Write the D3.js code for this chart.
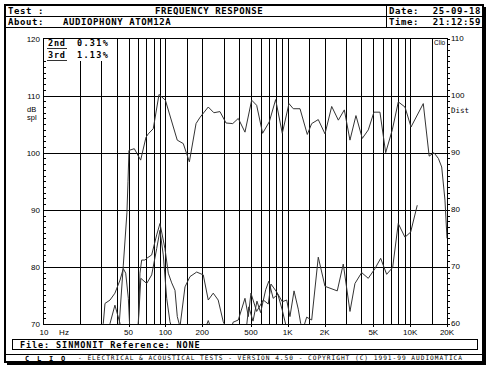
<!DOCTYPE html>
<html><head><meta charset="utf-8">
<script src="https://cdn.jsdelivr.net/npm/d3@7"></script>
<style>html,body{margin:0;padding:0;background:#fff;}svg{display:block;}</style>
</head><body>
<script>
// ---------- data ----------
const mainFreq = [41.8, 45.3, 48.5, 49.5, 50.4, 55.7, 62.8, 69.4, 72.5, 79.6, 88.7, 100, 125, 140, 157, 178, 192, 224, 249, 279, 313, 355, 394, 447, 507, 557, 623, 706, 796, 902, 1023, 1109, 1259, 1444, 1568, 1775, 2014, 2285, 2590, 2898, 3222, 3606, 4064, 4550, 5060, 5665, 6310, 7145, 8000, 9070, 10160, 12800, 14300, 15640, 17000, 18100, 19250, 20000];
const mainSpl  = [69.5, 80.3, 89.5, 95, 100.4, 100.7, 98.7, 102.7, 103.3, 104.2, 110.2, 109.2, 102.2, 101.6, 98.4, 105.1, 106.2, 108.0, 107.0, 107.2, 105.2, 105.1, 106.0, 103.6, 109.2, 108.3, 103.4, 105.4, 109.3, 103.4, 108.6, 107.7, 107.7, 103.2, 105.1, 105.8, 103.3, 108.1, 105.7, 107.5, 102.2, 106.5, 102.5, 104.0, 107.1, 107.1, 100.0, 104.0, 108.9, 108.0, 104.5, 108.6, 99.4, 100.0, 99.0, 97.5, 91.7, 85];

const thirdFreq = [30, 31.1, 32.1, 35.3, 38.7, 42.6, 45.3, 47.4, 49.8, 51.5, 57, 60.1, 62, 64, 68.1, 70.4, 77.3, 84.9, 90.3, 99.2, 105.6, 112.6, 119.8, 125.1, 131.6, 144.6, 158.9, 180.2, 204, 224, 246, 270, 297, 320, 345, 357, 394, 447, 476, 500, 557, 631, 693, 729, 812, 902, 980, 1042, 1125, 1218, 1275, 1350, 1427, 1568, 1775, 2014, 2537, 2841, 3223, 3540, 4015, 4546, 5157, 5741, 6427, 7195, 7992, 9069, 10095, 11429];
const thirdDist = [58, 60.1, 63.6, 64.2, 65.4, 67.7, 69.7, 68.9, 64.5, 58, 58, 60.1, 68.9, 71.2, 71.2, 71.5, 72.1, 75.6, 77.6, 73.2, 68.9, 67.2, 65.9, 61.3, 59.5, 66.5, 68.3, 69.1, 68.6, 64.2, 65.4, 64.2, 60.4, 59, 59, 60.3, 60.7, 64.5, 61.3, 65.4, 62.2, 64.2, 63.5, 67.0, 65.6, 63.9, 64.2, 61.3, 65.8, 62.6, 60.1, 59.5, 61.2, 60.7, 71.7, 66.6, 65.8, 70.5, 62.2, 67.1, 69.0, 68.0, 69.7, 71.5, 68.7, 69.9, 77.6, 75.2, 76.1, 80.8];

const secondFreq = [34, 35.3, 38.7, 42.6, 44, 58, 60.1, 63, 70.4, 77.3, 84.9, 90.3, 96.1, 102.5, 109, 114, 210, 224, 238, 430, 460, 480, 520, 560, 600, 660, 700, 760, 830, 900, 960, 1000];
const secondDist = [59, 60.1, 63.3, 60.1, 59, 59, 60.1, 68, 67.1, 68.6, 73.2, 76.4, 72.1, 64.5, 60.4, 59, 59, 60.6, 59, 59, 59.5, 63, 60.5, 64, 62, 66, 67.5, 64.5, 65.2, 62.5, 60, 59];

const gridFreqs = [20,30,40,50,60,70,80,90,100,150,200,300,400,500,600,700,800,900,1000,1500,2000,3000,4000,5000,6000,7000,8000,9000,10000,15000];
const xTickVals = [10, 50, 100, 200, 500, 1000, 2000, 5000, 10000, 20000];
const xTickLabels = ["10", "50", "100", "200", "500", "1K", "2K", "5K", "10K", "20K"];
const leftTicks = [70, 80, 90, 100, 110, 120];
const rightTicks = [60, 70, 80, 90, 100, 110];

// ---------- drawing ----------
const W = 497, H = 382;
const svg = d3.select("body").append("svg").attr("width", W).attr("height", H);
svg.append("rect").attr("width", W).attr("height", H).attr("fill", "#fff");

const mono = "'DejaVu Sans Mono', 'Liberation Mono', monospace";
const sans = "'Liberation Sans', Arial, sans-serif";

// outer frame with shadow
svg.append("rect").attr("x", 7).attr("y", 7).attr("width", 479).attr("height", 358).attr("fill", "#000");
svg.append("rect").attr("x", 5).attr("y", 5).attr("width", 478).attr("height", 357).attr("fill", "#fff").attr("stroke", "#000").attr("stroke-width", 2);

// header
const hdr = svg.append("g").attr("shape-rendering", "crispEdges");
hdr.append("line").attr("x1", 5).attr("x2", 483).attr("y1", 16.5).attr("y2", 16.5).attr("stroke", "#000");
hdr.append("line").attr("x1", 5).attr("x2", 483).attr("y1", 27.5).attr("y2", 27.5).attr("stroke", "#000");
hdr.append("line").attr("x1", 386.5).attr("x2", 386.5).attr("y1", 5).attr("y2", 27.5).attr("stroke", "#000");
const ht = (x, y, s, anchor) => svg.append("text").attr("x", x).attr("y", y).text(s)
  .attr("font-family", mono).attr("font-weight", "bold").attr("font-size", 9).attr("letter-spacing", 0.6)
  .attr("text-anchor", anchor || "start").attr("fill", "#000");
ht(8, 14, "Test :");
ht(155, 14, "FREQUENCY RESPONSE");
ht(389, 14, "Date:");
ht(481, 14, "25-09-18", "end");
ht(8, 24.5, "About:");
ht(63, 24.5, "AUDIOPHONY ATOM12A");
ht(389, 24.5, "Time:");
ht(481, 24.5, "21:12:59", "end");

// scales
const x = d3.scaleLog().domain([10, 20000]).range([43, 447]);
const yL = d3.scaleLinear().domain([70, 120]).range([324, 38.5]);
const yR = d3.scaleLinear().domain([60, 110]).range([324, 38.5]);

// grid
const grid = svg.append("g").attr("shape-rendering", "crispEdges").attr("stroke", "#000");
grid.selectAll("line.v").data(gridFreqs).join("line")
  .attr("x1", d => Math.round(x(d)) + 0.5).attr("x2", d => Math.round(x(d)) + 0.5)
  .attr("y1", 38.5).attr("y2", 324);
grid.selectAll("line.h").data([80, 90, 100, 110]).join("line").attr("class", "h")
  .attr("x1", 43).attr("x2", 447)
  .attr("y1", d => Math.round(yL(d)) + 0.5).attr("y2", d => Math.round(yL(d)) + 0.5);

// minor ticks on left (inward) and right (outward)
const minor = d3.range(70, 121, 1);
grid.selectAll("line.ml").data(minor).join("line").attr("class", "ml")
  .attr("x1", 43.5).attr("x2", 46).attr("y1", d => Math.round(yL(d)) + 0.5).attr("y2", d => Math.round(yL(d)) + 0.5);
const minorR = d3.range(60, 111, 1);
grid.selectAll("line.mr").data(minorR).join("line").attr("class", "mr")
  .attr("x1", 447).attr("x2", 449.5).attr("y1", d => Math.round(yR(d)) + 0.5).attr("y2", d => Math.round(yR(d)) + 0.5);
// bottom ticks
grid.selectAll("line.bt").data(xTickVals.slice(1)).join("line").attr("class", "bt")
  .attr("x1", d => Math.round(x(d)) + 0.5).attr("x2", d => Math.round(x(d)) + 0.5).attr("y1", 324).attr("y2", 327);

// axis labels
const lab = (xx, yy, s, anchor, size, fam, weight) => svg.append("text").attr("x", xx).attr("y", yy).text(s)
  .attr("font-family", fam || sans).attr("font-size", size || 8).attr("text-anchor", anchor || "start")
  .attr("font-weight", weight || "normal").attr("fill", "#000");
leftTicks.forEach(v => lab(40, yL(v) + 3, String(v), "end"));
rightTicks.forEach(v => lab(451, yR(v) + 2, String(v), "start"));
xTickVals.forEach((v, i) => lab(x(v) + (i === 0 ? 1 : 0), 335, xTickLabels[i], "middle"));
lab(64, 335, "Hz", "middle");
lab(27, 112, "dB", "start", 7.5);
lab(27, 120, "spl", "start", 7.5);
lab(451, 113, "Dist", "start", 7.5, mono);

// curves
const clip = svg.append("clipPath").attr("id", "pc");
clip.append("rect").attr("x", 43).attr("y", 38.5).attr("width", 404).attr("height", 285.5);
const plot = svg.append("g").attr("clip-path", "url(#pc)");
const lineL = d3.line().x(d => x(d[0])).y(d => yL(d[1]));
const lineR = d3.line().x(d => x(d[0])).y(d => yR(d[1]));
plot.append("path").datum(mainFreq.map((f, i) => [f, mainSpl[i]])).attr("d", lineL)
  .attr("fill", "none").attr("stroke", "#333").attr("stroke-width", 1);
plot.append("path").datum(thirdFreq.map((f, i) => [f, thirdDist[i]])).attr("d", lineR)
  .attr("fill", "none").attr("stroke", "#333").attr("stroke-width", 1);
plot.append("path").datum(secondFreq.map((f, i) => [f, secondDist[i]])).attr("d", lineR)
  .attr("fill", "none").attr("stroke", "#333").attr("stroke-width", 1);

// legend (white box covering grid)
svg.append("rect").attr("x", 44).attr("y", 39).attr("width", 70).attr("height", 22).attr("fill", "#fff");
const leg = (yy, name, val) => {
  svg.append("text").attr("x", 48).attr("y", yy).text(name).attr("font-family", mono).attr("font-weight", "bold")
    .attr("font-size", 8.5).attr("letter-spacing", 0.8).attr("fill", "#000");
  svg.append("line").attr("x1", 47).attr("x2", 67).attr("y1", yy + 2.5).attr("y2", yy + 2.5).attr("stroke", "#333");
  svg.append("text").attr("x", 77).attr("y", yy).text(val).attr("font-family", mono).attr("font-weight", "bold")
    .attr("font-size", 8.5).attr("letter-spacing", 1.3).attr("fill", "#000");
};
leg(46, "2nd", "0.31%");
leg(58, "3rd", "1.13%");

// Clio mark
svg.append("rect").attr("x", 433).attr("y", 39).attr("width", 14).attr("height", 7).attr("fill", "#fff");
lab(434, 45, "Clio", "start", 6.5, sans);

// axis frame
svg.append("rect").attr("x", 43.5).attr("y", 38.5).attr("width", 404).attr("height", 285.5).attr("fill", "none")
  .attr("stroke", "#000").attr("shape-rendering", "crispEdges");

// footer
svg.append("rect").attr("x", 12.5).attr("y", 339.5).attr("width", 465).attr("height", 10).attr("fill", "none").attr("stroke", "#000").attr("shape-rendering", "crispEdges");
svg.append("text").attr("x", 20).attr("y", 347.5).text("File: SINMONIT Reference: NONE")
  .attr("font-family", mono).attr("font-weight", "bold").attr("font-size", 8.5).attr("letter-spacing", 0.9).attr("fill", "#000");
svg.append("line").attr("x1", 5).attr("x2", 483).attr("y1", 354.5).attr("y2", 354.5).attr("stroke", "#000").attr("shape-rendering", "crispEdges");
svg.append("text").attr("x", 25).attr("y", 360.5).text("C L I O")
  .attr("font-family", mono).attr("font-weight", "bold").attr("font-size", 7).attr("letter-spacing", 1.8).attr("fill", "#000");
svg.append("text").attr("x", 78).attr("y", 360.3).text("-  ELECTRICAL & ACOUSTICAL TESTS  -  VERSION 4.50  -  COPYRIGHT (C) 1991-99 AUDIOMATICA")
  .attr("font-family", mono).attr("font-size", 6.2).attr("textLength", 384).attr("lengthAdjust", "spacing").attr("fill", "#000");
</script>
</body></html>
